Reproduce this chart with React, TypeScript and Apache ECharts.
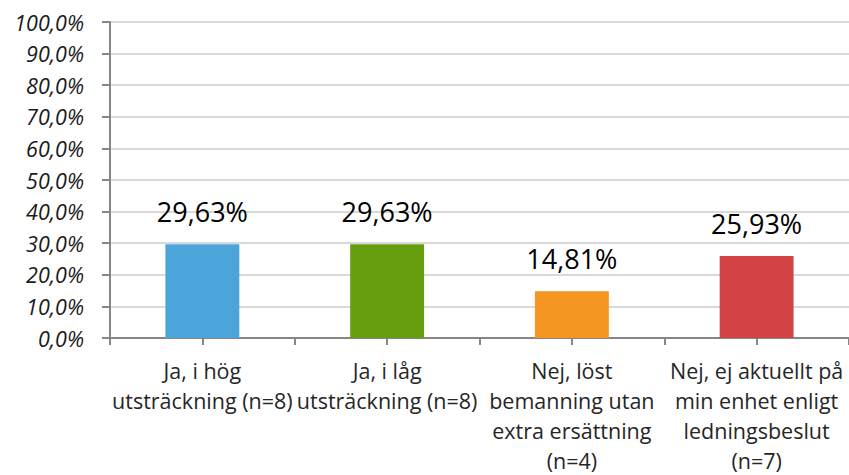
import React, { useEffect, useRef } from "react";
import * as echarts from "echarts";

const categories = [
  "Ja, i hög\nutsträckning (n=8)",
  "Ja, i låg\nutsträckning (n=8)",
  "Nej, löst\nbemanning utan\nextra ersättning\n(n=4)",
  "Nej, ej aktuellt på\nmin enhet enligt\nledningsbeslut\n(n=7)",
];
const values = [29.63, 29.63, 14.81, 25.93];
const barColors = ["#4BA5DA", "#669E0F", "#F59622", "#D24444"];
const halfTicks = ["", "", "", "", "", "", "", ""];

const FONT = "'Open Sans', 'Noto Sans', sans-serif";

export default function App() {
  const ref = useRef<HTMLDivElement>(null);
  useEffect(() => {
    if (!ref.current) return;
    const chart = echarts.init(ref.current, undefined, { renderer: "svg" });
    chart.setOption({
      animation: false,
      backgroundColor: "#ffffff",
      grid: { left: 110, right: 0, top: 22, bottom: 133, containLabel: false },
      xAxis: [
        {
          type: "category",
          data: categories,
          axisLine: { show: true, lineStyle: { color: "#868686", width: 2 } },
          axisTick: { show: false },
          axisLabel: {
            interval: 0,
            color: "#262626",
            fontFamily: FONT,
            fontSize: 21.5,
            lineHeight: 30,
            margin: 17,
          },
        },
        {
          type: "category",
          data: halfTicks,
          position: "bottom",
          boundaryGap: true,
          axisLine: { show: false },
          axisLabel: { show: false },
          axisTick: {
            show: true,
            alignWithLabel: false,
            length: 7,
            inside: false,
            lineStyle: { color: "#868686", width: 2 },
          },
        },
      ],
      yAxis: {
        type: "value",
        min: 0,
        max: 100,
        interval: 10,
        axisLine: { show: true, lineStyle: { color: "#868686", width: 2 } },
        axisTick: { show: true, length: 8, lineStyle: { color: "#868686", width: 2 } },
        splitLine: { show: true, lineStyle: { color: "#D9D9D9", width: 2 } },
        axisLabel: {
          color: "#1a1a1a",
          fontFamily: FONT,
          fontStyle: "italic",
          fontSize: 21.5,
          margin: 26,
          formatter: (v: number) => v.toFixed(1).replace(".", ",") + "%",
        },
      },
      series: [
        {
          type: "bar",
          xAxisIndex: 0,
          barWidth: "40%",
          data: values.map((v, i) => ({ value: v, itemStyle: { color: barColors[i] } })),
          label: {
            show: true,
            position: "top",
            distance: 19,
            color: "#000000",
            fontFamily: FONT,
            fontSize: 27,
            formatter: (p: any) => p.value.toFixed(2).replace(".", ",") + "%",
          },
        },
      ],
    });
    return () => chart.dispose();
  }, []);
  return <div ref={ref} style={{ width: 849, height: 475, position: "absolute", left: 0, top: 0 }} />;
}
